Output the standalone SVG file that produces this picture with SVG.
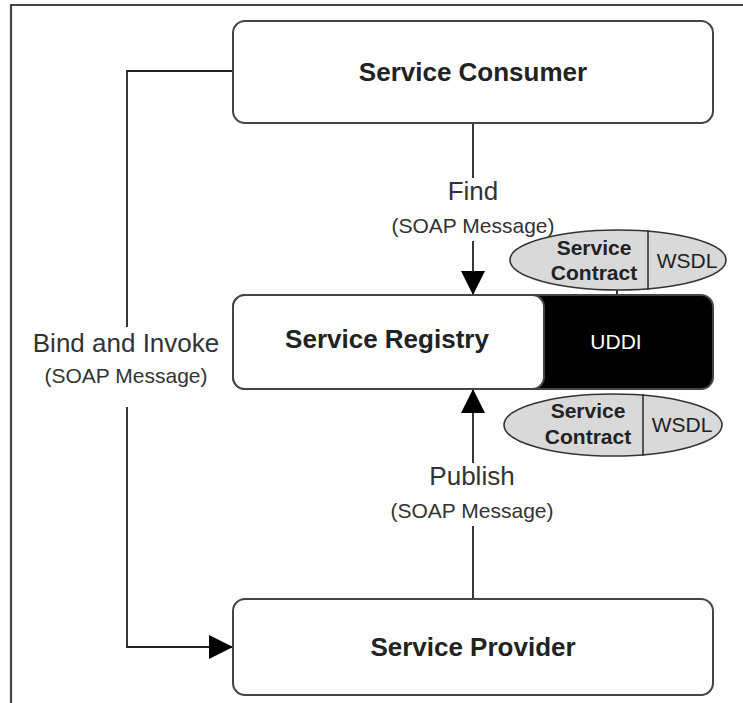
<svg xmlns="http://www.w3.org/2000/svg" width="743" height="703" viewBox="0 0 743 703">
<defs>
<style>
.box{fill:#fff;stroke:#444;stroke-width:2}
.title{font-family:"Liberation Sans",Arial,sans-serif;font-weight:bold;font-size:26px;fill:#222;text-anchor:middle}
.lbl{font-family:"Liberation Sans",Arial,sans-serif;font-size:26px;fill:#333;text-anchor:middle}
.sub{font-family:"Liberation Sans",Arial,sans-serif;font-size:21px;fill:#333;text-anchor:middle}
.ell{fill:#d9d9d9;stroke:#333;stroke-width:1.6}
.ctext{font-family:"Liberation Sans",Arial,sans-serif;font-weight:bold;font-size:21px;fill:#222;text-anchor:middle}
.wtext{font-family:"Liberation Sans",Arial,sans-serif;font-size:21px;fill:#222;text-anchor:middle}
.conn{fill:none;stroke:#222;stroke-width:1.8}
.bg{fill:#fff}
</style>
<marker id="arr" viewBox="0 0 10 10" refX="10" refY="5" markerWidth="24" markerHeight="24" markerUnits="userSpaceOnUse" orient="auto">
<path d="M0,0 L10,5 L0,10 Z" fill="#000"/>
</marker>
</defs>
<path d="M11,703 V5 H743" fill="none" stroke="#444" stroke-width="2.2"/>
<g id="connectors">
<path class="conn" d="M233,71 H127 V647 H233" marker-end="url(#arr)"/>
<path class="conn" d="M473,123 V295" marker-end="url(#arr)"/>
<path class="conn" d="M473,599 V389" marker-end="url(#arr)"/>
<path class="conn" d="M617,290 V296"/>
<rect class="bg" x="20" y="327" width="212" height="80"/>
<text class="lbl" x="126" y="352">Bind and Invoke</text>
<text class="sub" x="126" y="383">(SOAP Message)</text>
<rect class="bg" x="392" y="178" width="163" height="63"/>
<text class="lbl" x="473" y="200">Find</text>
<text class="sub" x="473" y="233">(SOAP Message)</text>
<rect class="bg" x="392" y="463" width="163" height="63"/>
<text class="lbl" x="472" y="485">Publish</text>
<text class="sub" x="472" y="518">(SOAP Message)</text>
</g>
<g id="consumer">
<rect class="box" x="233" y="21" width="480" height="102" rx="12"/>
<text class="title" x="473" y="81">Service Consumer</text>
</g>
<g id="registry">
<rect x="233" y="295" width="480" height="94" rx="12" fill="#000" stroke="#444" stroke-width="2"/>
<rect class="box" x="233" y="295" width="311" height="94" rx="12"/>
<text class="title" x="387" y="348">Service Registry</text>
<text x="616" y="349" font-family="Liberation Sans,Arial,sans-serif" font-size="21" fill="#fff" text-anchor="middle">UDDI</text>
</g>
<g id="contract-top">
<ellipse class="ell" cx="618" cy="260" rx="108" ry="30"/>
<line x1="648" y1="230" x2="648" y2="290" stroke="#333" stroke-width="1.6"/>
<text class="ctext" x="594" y="255">Service</text>
<text class="ctext" x="594" y="280">Contract</text>
<text class="wtext" x="687" y="268">WSDL</text>
</g>
<g id="contract-bottom">
<ellipse class="ell" cx="613" cy="425" rx="109" ry="31"/>
<line x1="643" y1="394" x2="643" y2="456" stroke="#333" stroke-width="1.6"/>
<text class="ctext" x="588" y="418">Service</text>
<text class="ctext" x="588" y="444">Contract</text>
<text class="wtext" x="682" y="432">WSDL</text>
</g>
<g id="provider">
<rect class="box" x="233" y="599" width="480" height="96" rx="12"/>
<text class="title" x="473" y="656">Service Provider</text>
</g>
</svg>
